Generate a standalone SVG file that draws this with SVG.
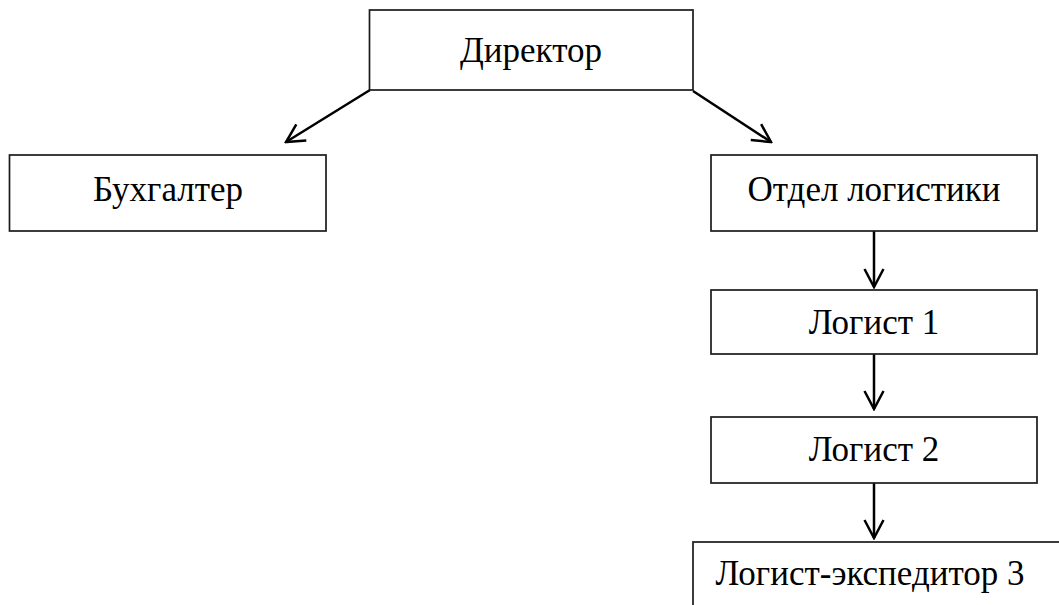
<svg xmlns="http://www.w3.org/2000/svg" width="1059" height="605" viewBox="0 0 1059 605">
<style>
.box{fill:#fff;stroke:#1a1a1a;stroke-width:1.7}
.lbl{font-family:"Liberation Serif","Times New Roman",serif;font-size:35px;fill:#000;text-anchor:middle}
.con{fill:none;stroke:#000;stroke-width:2.5;marker-end:url(#arr)}
</style>
<defs>
<marker id="arr" viewBox="0 0 22 22" refX="20" refY="11" markerWidth="22" markerHeight="22" markerUnits="userSpaceOnUse" orient="auto">
<path d="M2,1.5 L20,11 L2,20.5" fill="none" stroke="#000" stroke-width="2.5"/>
</marker>
</defs>
<rect width="1059" height="605" fill="#fff"/>
<g id="connectors">
<line class="con" x1="370" y1="90" x2="286" y2="142"/>
<line class="con" x1="693" y1="91" x2="771" y2="142"/>
<line class="con" x1="874" y1="231" x2="874" y2="287"/>
<line class="con" x1="874" y1="354" x2="874" y2="409"/>
<line class="con" x1="874" y1="483" x2="874" y2="538"/>
</g>
<g id="director">
<rect class="box" x="369.5" y="10" width="323.5" height="80"/>
<text class="lbl" x="531" y="62">Директор</text>
</g>
<g id="accountant">
<rect class="box" x="9.5" y="155" width="316.5" height="76"/>
<text class="lbl" x="168" y="201">Бухгалтер</text>
</g>
<g id="logistics">
<rect class="box" x="711" y="155" width="326" height="76"/>
<text class="lbl" x="874" y="201">Отдел логистики</text>
</g>
<g id="logist1">
<rect class="box" x="711" y="290" width="326" height="64"/>
<text class="lbl" x="874" y="334">Логист 1</text>
</g>
<g id="logist2">
<rect class="box" x="711" y="417" width="326" height="66"/>
<text class="lbl" x="874" y="461">Логист 2</text>
</g>
<g id="expeditor">
<rect class="box" x="693" y="542" width="420" height="100"/>
<text class="lbl" x="870" y="585">Логист-экспедитор 3</text>
</g>
</svg>
